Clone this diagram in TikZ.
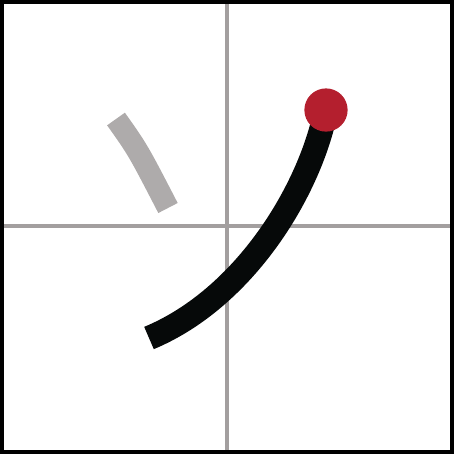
\documentclass[tikz,border=0pt]{standalone}
\usepackage{xcolor}
\usetikzlibrary{positioning}
\definecolor{gridgray}{HTML}{A39F9F}
\definecolor{donegray}{HTML}{AEABAB}
\definecolor{inkblack}{HTML}{060909}
\definecolor{startred}{HTML}{B41F2E}

\begin{document}
\begin{tikzpicture}[
  x=0.01cm,y=-0.01cm,
  guide/.style={draw=gridgray,line width=0.95pt},
  oldstroke/.style={draw=donegray,line width=6.2pt,line cap=butt},
  newstroke/.style={draw=inkblack,line width=6.9pt,line cap=butt},
  startdot/.style={circle,fill=startred,inner sep=0pt,minimum size=12.3pt}
]
  \useasboundingbox (0,0) rectangle (454,454);
  % guide cross
  \draw[guide] (227,2) -- (227,452);
  \draw[guide] (2,226) -- (452,226);
  % frame
  \draw[black,line width=1.15pt] (2,2) rectangle (452,452);
  % first stroke (done)
  \coordinate (dot1) at (116,119);
  \coordinate (end1) at (168,208);
  \draw[oldstroke] (dot1) .. controls (138,150) .. (end1);
  % second stroke (current)
  \coordinate (dot2) at (326,110);
  \coordinate (end2) at (149,338);
  \draw[newstroke] (dot2) .. controls (310,190) and (245,298) .. (end2);
  \node[startdot] (start) at (dot2) {};
\end{tikzpicture}
\end{document}
